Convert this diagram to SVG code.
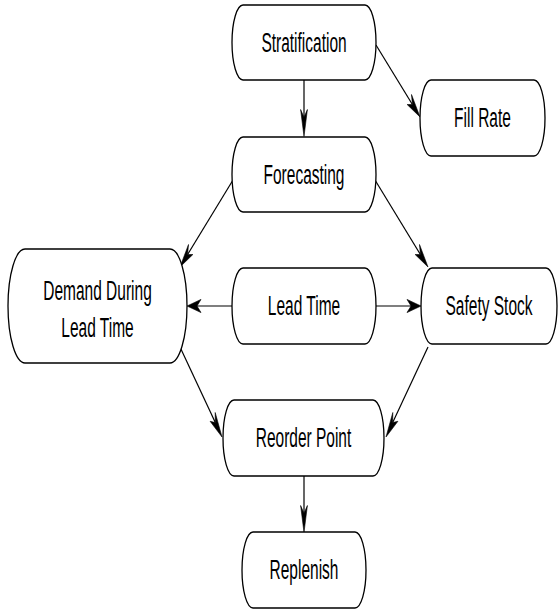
<svg xmlns="http://www.w3.org/2000/svg" width="559" height="611" viewBox="0 0 559 611">
<style>
.box{fill:#fff;stroke:#000;stroke-width:1.3}
.lbl{font-family:"Liberation Sans",Arial,sans-serif;font-size:15.5px;fill:#000;text-anchor:middle}
.edge{stroke:#000;stroke-width:1.2;fill:none}
.head{fill:#000;stroke:#000;stroke-width:0.6;stroke-linejoin:miter}
</style>
<rect width="559" height="611" fill="#fff"/>
<g id="connectors">
  <line class="edge" x1="304" y1="80" x2="304" y2="117"/>
  <path class="head" d="M304,136.5 L307.4,109.5 L304,117.2 L300.6,109.5 Z"/>
  <line class="edge" x1="376" y1="45" x2="412.4" y2="104.5"/>
  <path class="head" d="M420,117 L407.1,104.5 L412.4,104.5 L411.5,94.5 Z"/>
  <line class="edge" x1="233" y1="180" x2="187.6" y2="254.5"/>
  <path class="head" d="M180,267 L188.5,244.5 L187.6,254.5 L192.9,254.5 Z"/>
  <line class="edge" x1="375" y1="180" x2="420.4" y2="254.5"/>
  <path class="head" d="M428,267 L419.5,244.5 L420.4,254.5 L415.1,254.5 Z"/>
  <line class="edge" x1="232" y1="306" x2="197" y2="306"/>
  <path class="head" d="M187,306 L201,299.4 L197,306 L201,312.6 Z"/>
  <line class="edge" x1="376" y1="306" x2="411" y2="306"/>
  <path class="head" d="M421,306 L407,299.4 L411,306 L407,312.6 Z"/>
  <line class="edge" x1="180" y1="347" x2="215.3" y2="422.6"/>
  <path class="head" d="M222,437 L210.1,421.3 L215.3,422.6 L215.2,412.5 Z"/>
  <line class="edge" x1="428" y1="347" x2="392.7" y2="422.6"/>
  <path class="head" d="M386,437 L397.9,421.3 L392.7,422.6 L392.8,412.5 Z"/>
  <line class="edge" x1="304" y1="476" x2="304" y2="513"/>
  <path class="head" d="M304,532.5 L307.4,505.5 L304,513.2 L300.6,505.5 Z"/>
</g>
<g id="stratification">
  <rect class="box" x="232" y="5" width="144" height="75" rx="11" ry="37.5"/>
  <text class="lbl" transform="translate(304,51.5) scale(1,1.75)">Stratification</text>
</g>
<g id="fill-rate">
  <rect class="box" x="420" y="80" width="125" height="76" rx="11" ry="38"/>
  <text class="lbl" transform="translate(482.5,127) scale(1,1.75)">Fill Rate</text>
</g>
<g id="forecasting">
  <rect class="box" x="232" y="137" width="144" height="75" rx="11" ry="37.5"/>
  <text class="lbl" transform="translate(304,183.5) scale(1,1.75)">Forecasting</text>
</g>
<g id="demand-during-lead-time">
  <rect class="box" x="8" y="249" width="179" height="114" rx="17" ry="57"/>
  <text class="lbl" transform="translate(97.5,299.5) scale(1,1.75)">Demand During</text>
  <text class="lbl" transform="translate(97.5,336.5) scale(1,1.75)">Lead Time</text>
</g>
<g id="lead-time">
  <rect class="box" x="232" y="268" width="144" height="76" rx="11" ry="38"/>
  <text class="lbl" transform="translate(304,315) scale(1,1.75)">Lead Time</text>
</g>
<g id="safety-stock">
  <rect class="box" x="421" y="268" width="136" height="76" rx="11" ry="38"/>
  <text class="lbl" transform="translate(489,315) scale(1,1.75)">Safety Stock</text>
</g>
<g id="reorder-point">
  <rect class="box" x="223" y="400" width="161" height="76" rx="11" ry="38"/>
  <text class="lbl" transform="translate(303.5,447) scale(1,1.75)">Reorder Point</text>
</g>
<g id="replenish">
  <rect class="box" x="242" y="532" width="124" height="76" rx="11" ry="38"/>
  <text class="lbl" transform="translate(304,579) scale(1,1.75)">Replenish</text>
</g>
</svg>
